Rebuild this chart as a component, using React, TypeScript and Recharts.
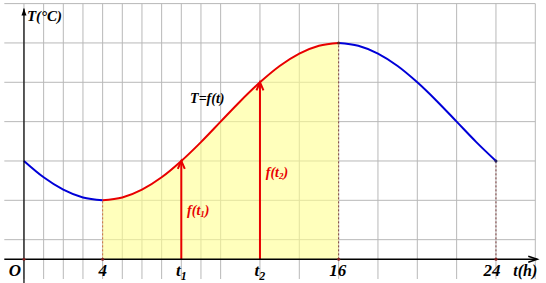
import {
  ComposedChart,
  XAxis,
  YAxis,
  CartesianGrid,
  Line,
  Area,
  ReferenceLine,
  ReferenceDot,
} from 'recharts';

const hours = [0, 1, 2, 3, 4, 5, 6, 7, 8, 9, 10, 11, 12, 13, 14, 15, 16, 17, 18, 19, 20, 21, 22, 23, 24];
const temps = [5, 4.17, 3.54, 3.14, 3, 3.14, 3.54, 4.17, 5, 5.96, 7, 8.04, 9, 9.83, 10.46, 10.86, 11, 10.86, 10.46, 9.83, 9, 8.04, 7, 5.96, 5];

const riseStart = 4;
const riseEnd = 16;
const t1 = 8;
const t2 = 12;
const dayEnd = 24;

const gridX = [-1, 0, 1, 2, 3, 4, 5, 6, 7, 8, 9, 10, 11, 12, 13, 14, 15, 16, 17, 18, 19, 20, 21, 22, 23, 24, 25, 26];
const gridY = [-1, 0, 1, 2, 3, 4, 5, 6, 7, 8, 9, 10, 11, 12, 13];

const axisTicks = [
  { t: 0, label: 'O', sub: '', dx: -9 },
  { t: riseStart, label: '4', sub: '', dx: 0 },
  { t: t1, label: 't', sub: '1', dx: 0 },
  { t: t2, label: 't', sub: '2', dx: 0 },
  { t: riseEnd, label: '16', sub: '', dx: -1 },
  { t: dayEnd, label: '24', sub: '', dx: -4 },
];

const tempAt = (t: number) => temps[hours.indexOf(t)];

const rows = hours.map((t, i) => ({
  t,
  cool: t <= riseStart || t >= riseEnd ? temps[i] : null,
  warm: t >= riseStart && t <= riseEnd ? temps[i] : null,
}));

const serif = "'Liberation Serif', 'DejaVu Serif', serif";
const RED = '#e80000';
const BLUE = '#0000d8';

// line with an arrow head at its second end
const arrow = (color: string, width: number, len: number, half: number, filled: boolean) => (p: any) => {
  const { x1, y1, x2, y2 } = p;
  const a = Math.atan2(y2 - y1, x2 - x1);
  const bx = x2 - len * Math.cos(a);
  const by = y2 - len * Math.sin(a);
  const lx = bx + half * Math.sin(a);
  const ly = by - half * Math.cos(a);
  const rx = bx - half * Math.sin(a);
  const ry = by + half * Math.cos(a);
  return (
    <g>
      <line x1={x1} y1={y1} x2={x2} y2={y2} stroke={color} strokeWidth={width} />
      {filled ? (
        <path d={`M${x2},${y2} L${lx},${ly} L${rx},${ry} Z`} fill={color} />
      ) : (
        <path d={`M${lx},${ly} L${x2},${y2} L${rx},${ry}`} fill="none" stroke={color} strokeWidth={width} />
      )}
    </g>
  );
};

const textAt = (content: any, dx: number, dy: number, size: number, color: string, anchor = 'middle') => (p: any) => (
  <text
    x={p.cx + dx}
    y={p.cy + dy}
    textAnchor={anchor}
    fontFamily={serif}
    fontStyle="italic"
    fontWeight="bold"
    fontSize={size}
    fill={color}
  >
    {content}
  </text>
);

export default function App() {
  return (
    <div style={{ position: 'absolute', left: 0, top: 0, width: 546, height: 283, background: '#fff' }}>
      <ComposedChart
        width={546}
        height={283}
        data={rows}
        margin={{ top: 3.6, right: 10.7, left: 4.3, bottom: 4 }}
      >
        <CartesianGrid
          stroke="#b8b8b8"
          verticalValues={gridX}
          horizontalValues={gridY}
        />
        <XAxis dataKey="t" type="number" domain={[-1, 26]} ticks={gridX} hide allowDataOverflow />
        <YAxis type="number" domain={[-1, 13]} ticks={gridY} hide allowDataOverflow />

        <Area
          type="monotone"
          dataKey="warm"
          baseValue={0}
          stroke="none"
          fill="#ffff90"
          fillOpacity={0.6}
          isAnimationActive={false}
        />

        <ReferenceLine segment={[{ x: riseStart, y: 0 }, { x: riseStart, y: tempAt(riseStart) }]} stroke="#d07040" strokeDasharray="2 2" ifOverflow="visible" />
        <ReferenceLine segment={[{ x: riseEnd, y: 0 }, { x: riseEnd, y: tempAt(riseEnd) }]} stroke="#804040" strokeDasharray="2 2" ifOverflow="visible" />
        <ReferenceLine segment={[{ x: dayEnd, y: 0 }, { x: dayEnd, y: tempAt(dayEnd) }]} stroke="#804040" strokeDasharray="2 2" ifOverflow="visible" />

        <Line type="monotone" dataKey="cool" stroke={BLUE} strokeWidth={2} dot={false} isAnimationActive={false} />
        <Line type="monotone" dataKey="warm" stroke={RED} strokeWidth={2} dot={false} isAnimationActive={false} />

        <ReferenceLine segment={[{ x: t1, y: 0 }, { x: t1, y: tempAt(t1) }]} shape={arrow(RED, 2, 8, 3.5, false)} ifOverflow="visible" />
        <ReferenceLine segment={[{ x: t2, y: 0 }, { x: t2, y: tempAt(t2) }]} shape={arrow(RED, 2, 8, 3.5, false)} ifOverflow="visible" />

        {/* axes */}
        <ReferenceLine segment={[{ x: -1, y: 0 }, { x: 26.1, y: 0 }]} shape={arrow('#000', 1.5, 9, 3, false)} ifOverflow="visible" />
        <ReferenceLine segment={[{ x: 0, y: -1.3 }, { x: 0, y: 12.75 }]} shape={arrow('#000', 1.2, 7, 2.5, true)} ifOverflow="visible" />

        {[0, riseStart, riseEnd, dayEnd].map((t) => (
          <ReferenceDot key={`d${t}`} x={t} y={0} r={1.5} fill="#802020" stroke="none" ifOverflow="visible" />
        ))}
        <ReferenceDot x={riseEnd} y={tempAt(riseEnd)} r={1.5} fill="#602020" stroke="none" ifOverflow="visible" />
        <ReferenceDot x={dayEnd} y={tempAt(dayEnd)} r={1.5} fill="#202060" stroke="none" ifOverflow="visible" />

        {axisTicks.map((tk) => (
          <ReferenceDot
            key={`l${tk.t}`}
            x={tk.t}
            y={0}
            r={0}
            ifOverflow="visible"
            shape={textAt(
              tk.sub ? (
                <>
                  {tk.label}
                  <tspan fontSize={12} dy={4}>{tk.sub}</tspan>
                </>
              ) : (
                tk.label
              ),
              tk.dx,
              17,
              17,
              '#000'
            )}
          />
        ))}
        <ReferenceDot x={26} y={0} r={0} ifOverflow="visible" shape={textAt('t(h)', -10, 17, 16, '#000')} />
        <ReferenceDot x={0} y={12} r={0} ifOverflow="visible" shape={textAt('T(°C)', 3, -2, 15, '#000', 'start')} />
        <ReferenceDot x={t1} y={tempAt(t2)} r={0} ifOverflow="visible" shape={textAt('T=f(t)', 26, 21, 14, '#000')} />
        <ReferenceDot
          x={t1}
          y={2}
          r={0}
          ifOverflow="visible"
          shape={textAt(<>f(t<tspan fontSize={9} dy={2}>1</tspan><tspan dy={-2}>)</tspan></>, 17, -5, 14, RED)}
        />
        <ReferenceDot
          x={t2}
          y={4}
          r={0}
          ifOverflow="visible"
          shape={textAt(<>f(t<tspan fontSize={9} dy={2}>2</tspan><tspan dy={-2}>)</tspan></>, 17, -4, 14, RED)}
        />
      </ComposedChart>
    </div>
  );
}
